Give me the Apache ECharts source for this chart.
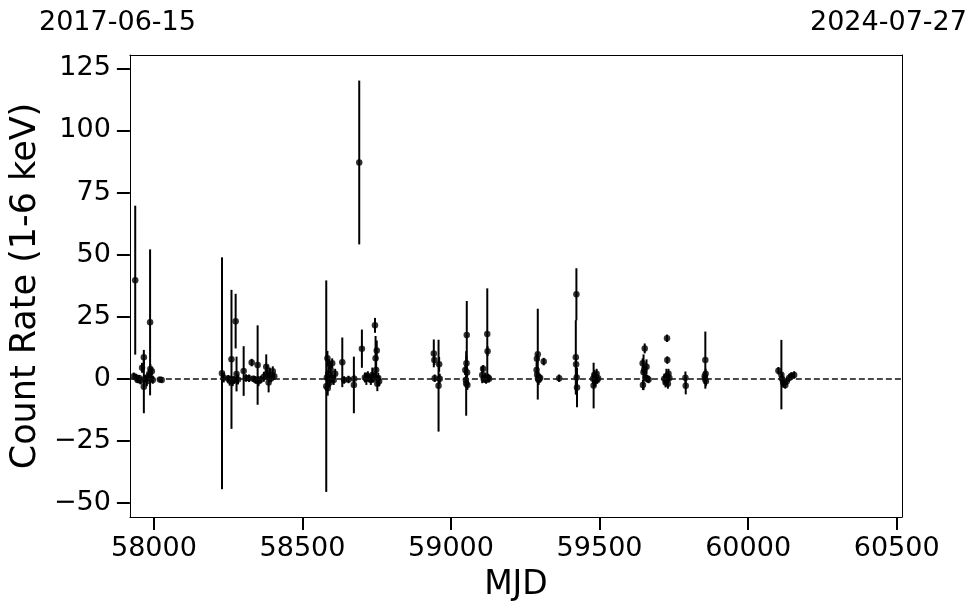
<!DOCTYPE html>
<html>
<head>
<meta charset="utf-8">
<script src="https://cdn.jsdelivr.net/npm/echarts@6/dist/echarts.min.js"></script>
<style>html,body{margin:0;padding:0;background:#fff;}#c{width:980px;height:613px;}</style>
</head>
<body>
<div id="c"></div>
<script>
// ---- data (MJD, count rate, 1-sigma error) ----
const mjd = [
  57932,57937,57940,57945,57950,57955,57960,57966,57966,57970,57976,57980,57984,57987,57988,57991,57993,57996,58020,58026,
  58229,58235,58250,58255,58261,58265,58270,58275,58278,58283,58302,58310,58320,58329,58335,58342,58349,58352,58360,58370,58378,58382,58386,58390,58395,58400,58405,
  58580,58582,58584,58585,58587,58590,58592,58595,58598,58600,58605,58610,58634,58640,58655,58673,58674,58691,58700,58710,58715,58720,58725,58730,58735,58740,58744,58746,58748,58750,58752,58755,58758,
  58942,58944,58945,58958,58960,58962,
  59048,59050,59051,59052,59053,59054,59055,59105,59108,59110,59115,59118,59122,59123,59125,59128,
  59288,59289,59290,59292,59293,59295,59297,59300,59312,59364,
  59420,59421,59422,59423,59424,
  59478,59480,59482,59485,59488,59490,59492,59495,
  59645,59646,59648,59650,59652,59655,59658,59660,59665,
  59718,59722,59725,59727,59728,59730,59732,59735,
  59789,59790,
  59854,59855,59856,59857,59858,
  60102,60112,60114,60118,60125,60130,60138,60145,60155
];
const rate = [
  1.0,39.7,0.5,-0.5,0.3,-0.8,4.4,8.6,-3.2,0.0,-1.0,0.8,2.0,22.7,3.9,0.2,3.0,-0.5,-0.3,-0.5,
  2.2,0.5,0.0,-0.8,7.8,-1.0,-0.5,23.2,1.9,-0.3,3.1,0.3,0.2,6.5,0.0,-0.5,5.5,-1.0,-0.3,0.8,4.8,2.5,-1.5,1.5,0.2,3.0,1.0,
  -3.0,0.5,8.2,-3.8,2.0,5.8,-1.5,3.5,0.5,6.2,-0.5,2.0,6.6,-0.5,-0.3,-2.5,0.0,87.1,12.1,0.5,0.0,1.0,0.2,-0.5,1.5,0.5,21.5,8.2,3.5,11.4,-2.0,0.3,-1.0,
  10.2,7.5,0.2,-2.8,5.8,0.0,
  3.5,-0.5,-1.9,6.2,17.6,2.5,-2.5,1.5,4.0,0.0,0.5,-0.5,18.0,11.1,0.5,0.0,
  3.5,8.0,1.6,9.9,0.0,-0.5,0.5,0.3,6.9,0.2,
  8.6,5.8,34.0,0.5,-3.5,
  0.0,-2.75,1.5,-1.0,0.5,2.0,-0.5,0.2,
  6.2,-2.5,2.6,3.5,12.2,0.5,4.8,0.0,-0.3,
  0.0,-1.5,1.0,16.3,7.5,-2.0,2.0,0.3,
  0.4,-2.8,
  1.0,0.0,7.5,2.0,-1.0,
  3.2,1.65,0.0,-1.5,-2.5,-1.0,0.3,1.1,1.5
];
const err = [
  1.5,30.0,1.5,1.2,1.2,1.5,2.0,3.0,10.7,1.5,2.0,1.5,2.0,29.4,2.0,1.5,1.5,1.5,1.0,1.0,
  46.7,2.0,1.5,2.0,28.0,2.0,1.5,11.0,7.0,2.0,10.0,1.5,1.5,1.5,1.2,1.5,16.0,2.0,1.5,2.0,5.0,3.0,4.0,3.0,1.5,2.0,1.5,
  42.6,2.0,3.0,3.0,3.0,2.0,2.0,3.0,2.0,2.0,2.0,2.0,10.0,1.5,1.5,11.4,1.5,33.0,7.7,2.0,2.5,2.0,1.5,2.0,3.0,2.0,3.0,9.0,4.0,4.0,3.0,2.0,2.0,
  5.6,2.0,1.5,18.5,3.0,2.0,
  2.0,1.5,13.0,3.0,13.7,2.0,2.0,3.3,1.5,1.5,2.0,1.5,18.4,2.0,1.5,1.5,
  3.0,2.0,2.0,18.3,2.0,2.0,1.5,1.5,1.5,1.5,
  15.0,2.0,10.5,1.5,8.0,
  2.0,9.2,2.0,2.0,2.0,2.0,1.5,1.5,
  2.0,2.0,7.2,2.0,2.0,1.5,3.0,1.5,1.5,
  2.0,2.0,3.0,1.5,1.5,2.0,2.0,1.5,
  2.5,3.5,
  1.5,2.0,11.5,2.0,2.0,
  1.5,14.0,2.0,2.0,1.5,1.5,1.5,1.5,1.5
];
const xTicks = [58000, 58500, 59000, 59500, 60000, 60500];
const yTicks = [-50, -25, 0, 25, 50, 75, 100, 125];
const xRange = [57919, 60518];
const yRange = [-55.7, 130.4];
const dateLabels = ['2017-06-15', '2024-07-27'];

const points = mjd.map((m, i) => [m, rate[i], err[i]]);
const FONT = 'DejaVu Sans';

const chart = echarts.init(document.getElementById('c'), null, {renderer: 'canvas'});
const fmtY = v => v < 0 ? '\u2212' + Math.abs(v) : String(v);
const fmtX = v => String(v);

chart.setOption({
  animation: false,
  backgroundColor: '#fff',
  grid: {left: 127, right: 78, top: 55, bottom: 96, containLabel: false},
  xAxis: [{
    type: 'value', min: xRange[0], max: xRange[1],
    name: 'MJD', nameLocation: 'middle', nameGap: 52,
    nameTextStyle: {fontFamily: FONT, fontSize: 33, color: '#000'},
    axisLine: {show: true, onZero: false, lineStyle: {color: '#000', width: 1}},
    axisTick: {show: true, length: 13, lineStyle: {color: '#000', width: 2}, customValues: xTicks},
    axisLabel: {fontFamily: FONT, fontSize: 27, color: '#000', margin: 18, customValues: xTicks, formatter: fmtX},
    splitLine: {show: false}
  }, {
    type: 'value', position: 'top', min: xRange[0], max: xRange[1],
    axisLine: {show: true, onZero: false, lineStyle: {color: '#000', width: 1}},
    axisTick: {show: false}, axisLabel: {show: false}, splitLine: {show: false}
  }],
  yAxis: [{
    type: 'value', min: yRange[0], max: yRange[1],
    name: 'Count Rate (1-6 keV)', nameLocation: 'middle', nameGap: 80,
    nameTextStyle: {fontFamily: FONT, fontSize: 35, color: '#000'},
    axisLine: {show: true, onZero: false, lineStyle: {color: '#000', width: 1}},
    axisTick: {show: true, length: 13, lineStyle: {color: '#000', width: 2}, customValues: yTicks},
    axisLabel: {fontFamily: FONT, fontSize: 27, color: '#000', margin: 19, customValues: yTicks, formatter: fmtY},
    splitLine: {show: false}
  }, {
    type: 'value', position: 'right', min: yRange[0], max: yRange[1],
    axisLine: {show: true, onZero: false, lineStyle: {color: '#000', width: 1}},
    axisTick: {show: false}, axisLabel: {show: false}, splitLine: {show: false}
  }],
  graphic: [
    {type: 'text', left: 39, top: 9, style: {text: dateLabels[0], font: '27px "DejaVu Sans"', fill: '#000'}},
    {type: 'text', left: 810, top: 9, style: {text: dateLabels[1], font: '27px "DejaVu Sans"', fill: '#000'}}
  ],
  series: [
    {
      type: 'line', data: [], z: 1, silent: true,
      markLine: {
        silent: true, symbol: ['none', 'none'], label: {show: false}, animation: false,
        lineStyle: {color: '#111', width: 1.5, type: [6, 3]},
        data: [{yAxis: 0}]
      }
    },
    {
      type: 'custom', z: 2, clip: true, silent: true,
      data: points,
      renderItem: function (params, api) {
        const x = api.value(0), y = api.value(1), e = api.value(2);
        const a = api.coord([x, y + e]);
        const b = api.coord([x, y - e]);
        return {type: 'line', shape: {x1: a[0], y1: a[1], x2: b[0], y2: b[1]},
                style: {stroke: '#000', lineWidth: 2}};
      }
    },
    {
      type: 'scatter', z: 3, silent: true,
      data: points.map(p => [p[0], p[1]]),
      symbol: 'circle', symbolSize: 6.5,
      itemStyle: {color: '#000'}
    }
  ]
});
</script>
</body>
</html>
